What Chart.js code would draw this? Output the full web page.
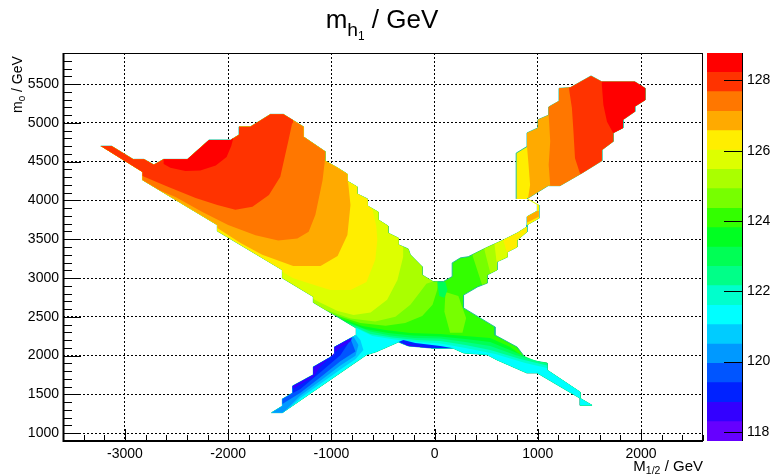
<!DOCTYPE html>
<html>
<head>
<meta charset="utf-8">
<script src="https://cdn.jsdelivr.net/npm/chart.js@4.4.1/dist/chart.umd.min.js"></script>
<style>
  html, body { margin: 0; padding: 0; background: #fff; }
  body { width: 774px; height: 475px; position: relative; overflow: hidden;
         font-family: "Liberation Sans", Arial, Helvetica, sans-serif; color: #000; }
  canvas { position: absolute; top: 0; }
  #main { left: 0; }
  #zbar { left: 700px; }
  .lbl { position: absolute; white-space: nowrap; line-height: 1; }
  .lbl sub { font-size: 70%; vertical-align: -0.3em; line-height: 0; }
  #title { left: 382px; top: 6px; font-size: 26px; transform: translateX(-50%); }
  #title > sub { font-size: 74%; vertical-align: -0.4em; }
  #title sub sub { font-size: 62%; vertical-align: -0.3em; }
  #ytitle { left: 10px; top: 113px; font-size: 14px; transform-origin: 0 0; transform: rotate(-90deg); }
  #xtitle { right: 71px; top: 458px; font-size: 15px; }
</style>
</head>
<body>
<canvas id="main" width="774" height="475"></canvas>
<canvas id="zbar" width="74" height="475"></canvas>
<div class="lbl" id="title">m<sub>h<sub>1</sub></sub> / GeV</div>
<div class="lbl" id="ytitle">m<sub>0</sub> / GeV</div>
<div class="lbl" id="xtitle">M<sub>1/2</sub> / GeV</div>
<script>
// axes
const X_RANGE = [-3600, 2600];
const Y_RANGE = [900, 5900];
const X_TICKS = [-3000, -2000, -1000, 0, 1000, 2000];
const Y_TICKS = [1000, 1500, 2000, 2500, 3000, 3500, 4000, 4500, 5000, 5500];

// colour scale (m_h1 in GeV), band edges bottom -> top
const Z_EDGES = [117.74, 118.29, 118.84, 119.40, 119.95, 120.50, 121.05, 121.60, 122.16, 122.71, 123.26,
                 123.81, 124.36, 124.92, 125.47, 126.02, 126.57, 127.12, 127.68, 128.23, 128.78];
const Z_COLORS = ["#6600ff", "#3300ff", "#0022ff", "#0055ff", "#0099ff", "#00ccff", "#00ffff", "#00ffcc",
                  "#00ff88", "#00ff55", "#00ff22", "#33ff00", "#77ff00", "#aaff00", "#ddff00", "#ffee00",
                  "#ffaa00", "#ff7700", "#ff3300", "#ff0000"];
const Z_TICKS = [118, 120, 122, 124, 126, 128];

// outline of the main X-shaped region (M1/2, m0), clockwise from the left tip
const MAIN = [
  [-3235, 4700], [-3130, 4700], [-2920, 4530], [-2815, 4530], [-2720, 4460], [-2625, 4530], [-2395, 4530],
  [-2185, 4780], [-1975, 4780], [-1895, 4845], [-1895, 4950], [-1785, 4950], [-1590, 5110], [-1465, 5110],
  [-1270, 4950], [-1270, 4820], [-1060, 4630], [-1060, 4510], [-940, 4420], [-845, 4340], [-845, 4250],
  [-750, 4175], [-750, 4085], [-650, 4020], [-650, 3930], [-545, 3850], [-545, 3750], [-450, 3670],
  [-450, 3580], [-350, 3515], [-350, 3430], [-255, 3375], [-235, 3300], [-120, 3145], [-120, 3040],
  [-15, 2955], [85, 2955], [170, 3020], [170, 3195], [250, 3260], [325, 3275], [500, 3390], [665, 3490],
  [800, 3580], [895, 3660], [895, 3790], [995, 3865], [995, 3940], [1010, 3940], [1010, 3770], [895, 3685],
  [895, 3595], [800, 3490], [800, 3400], [705, 3335], [705, 3270], [605, 3210], [605, 3105], [510, 3040],
  [510, 2935], [415, 2885], [280, 2780], [280, 2615], [585, 2370], [585, 2265], [800, 2110], [895, 1945],
  [1090, 1905], [1090, 1815], [1410, 1530], [1410, 1360], [1525, 1360], [995, 1775], [895, 1775],
  [605, 1945], [510, 2010], [280, 2035], [180, 2095], [-15, 2095], [-255, 2125], [-350, 2175],
  [-565, 2050], [-660, 2010], [-1475, 1265], [-1580, 1265], [-1475, 1350], [-1475, 1440], [-1375, 1520],
  [-1375, 1610], [-1175, 1755], [-1175, 1855], [-970, 2010], [-970, 2110], [-760, 2265], [-760, 2355],
  [-1175, 2685], [-1175, 2760], [-1475, 3000], [-1475, 3105], [-2105, 3605], [-2105, 3685], [-2830, 4265],
  [-2830, 4365]
];

// outline of the separate upper-right island
const BLOB = [
  [790, 4020], [790, 4610], [895, 4695], [895, 4870], [1000, 4935], [1000, 5040], [1105, 5100], [1105, 5205],
  [1205, 5280], [1205, 5445], [1315, 5455], [1515, 5605], [1620, 5530], [1940, 5530], [2040, 5445],
  [2040, 5295], [1940, 5210], [1940, 5145], [1825, 5040], [1825, 4935], [1730, 4870], [1730, 4760],
  [1620, 4650], [1620, 4510], [1430, 4355], [1215, 4190], [1100, 4190], [895, 4020]
];
const NECK = [[995, 3940], [895, 4020], [910, 4020], [1010, 3945]];

// contour lines inside the main region (higher values, upper-left wing)
const C_FF0000 = [[-2625, 4530], [-2395, 4530], [-2185, 4780], [-1975, 4780], [-1950, 4805], [-1970, 4700],
  [-2015, 4560], [-2120, 4450], [-2270, 4385], [-2415, 4380], [-2560, 4420], [-2625, 4470]];
const C_FF3300 = [[-2830, 4315], [-2590, 4180], [-2315, 4030], [-2105, 3940], [-1930, 3880], [-1765, 3920],
  [-1605, 4070], [-1495, 4305], [-1415, 4780], [-1380, 4995], [-1372, 5035]];
const C_FF7700 = [[-2655, 4125], [-2510, 4045], [-2250, 3850], [-2000, 3685], [-1735, 3550], [-1515, 3485],
  [-1330, 3510], [-1220, 3595], [-1155, 3815], [-1115, 4070], [-1085, 4265], [-1060, 4550]];
const C_FFAA00 = [[-2105, 3645], [-1880, 3450], [-1670, 3300], [-1370, 3155], [-1105, 3155], [-940, 3285],
  [-845, 3555], [-815, 3940], [-835, 4200], [-845, 4275]];
const C_FFEE00 = [[-1475, 3080], [-1375, 3000], [-1205, 2925], [-1010, 2845], [-815, 2845], [-660, 2950],
  [-575, 3235], [-555, 3490], [-565, 3670], [-603, 3893]];
const C_DDFF00 = [[-1175, 2730], [-1105, 2680], [-940, 2575], [-785, 2525], [-620, 2555], [-460, 2720],
  [-360, 2975], [-305, 3270], [-305, 3404]];
const C_AAFF00 = [[-1060, 2592], [-815, 2480], [-575, 2440], [-380, 2500], [-235, 2655], [-140, 2820], [-80, 2925]];
const C_77FF00 = [[-980, 2530], [-720, 2420], [-475, 2385], [-285, 2420], [-120, 2510], [-20, 2655], [25, 2845], [35, 2955]];
const STREAK_77 = [[105, 2820], [230, 2770], [305, 2485], [270, 2295], [150, 2295], [95, 2565]];
const SPOT_55 = [[25, 2950], [104, 2950], [125, 2845], [95, 2745], [45, 2770]];

// upper-right arm
const ARM_77 = [[365, 3301], [460, 2909]];
const ARM_AA = [[480, 3377], [540, 3061]];
const ARM_DD = [[580, 3438], [605, 3155]];
const ARM_EE = [[705, 3310]];
const ARM_ORANGE = [[895, 3715], [895, 3790], [995, 3865], [1010, 3865], [1010, 3790]];

// lower values (centre bottom, lower arms)
const C_00FF22 = [[-932, 2492], [-700, 2383], [-477, 2331], [-235, 2293], [55, 2280], [297, 2254], [539, 2228], [733, 2112]];
const C_00FF55 = [[-884, 2454], [-671, 2344], [-448, 2293], [-216, 2260], [55, 2247], [297, 2215], [539, 2177], [752, 2061], [994, 1925]];
const C_00FF88 = [[-845, 2423], [-622, 2312], [-429, 2260], [-196, 2228], [55, 2222], [297, 2177], [539, 2125], [781, 2009], [1090, 1900]];
const C_00FFCC = [[-806, 2392], [-622, 2280], [-409, 2235], [-177, 2202], [55, 2189], [297, 2138], [539, 2073], [829, 1957], [1090, 1874]];
const C_00FFFF = [[-767, 2360], [-603, 2254], [-390, 2209], [-158, 2177], [55, 2157], [297, 2099], [587, 2022], [878, 1906], [1090, 1842]];
const C_00CCFF = [[-1397, 1336], [-1300, 1454], [-1106, 1638], [-913, 1823], [-767, 1954], [-690, 2073], [-719, 2202]];
const C_0099FF = [[-1445, 1293], [-1300, 1486], [-1106, 1678], [-913, 1872], [-767, 1999], [-738, 2138], [-786, 2246]];
const C_0055FF = [[-1475, 1378], [-1300, 1521], [-1106, 1723], [-913, 1929], [-767, 2052], [-816, 2224]];
const C_0022FF = [[-1426, 1481], [-1300, 1570], [-1106, 1785], [-913, 2004], [-835, 2164], [-845, 2202]];
const C_3300FF = [[-1375, 1571], [-1300, 1629], [-1174, 1726], [-1106, 1861], [-952, 2061], [-913, 2098], [-816, 2183], [-797, 2238]];
const STRIP_0022FF = [[-350, 2175], [-255, 2125], [-15, 2095], [180, 2095], [55, 2125], [-187, 2164], [-303, 2202]];
const STRIP_3300FF = [[-320, 2170], [-255, 2125], [-15, 2095], [-60, 2110], [-200, 2135], [-290, 2160]];

// island contours
const I_FFAA00 = [[905, 4028], [925, 4200], [910, 4460], [895, 4695]];
const I_FF7700 = [[1120, 4190], [1105, 4460], [1120, 4760], [1105, 5100]];
const I_FF3300 = [[1410, 4340], [1360, 4545], [1345, 4890], [1330, 5190], [1300, 5454]];
const I_FF0000 = [[1670, 5015], [1635, 5230], [1620, 5490]];

// follow an outline from vertex a to vertex b (1-based), step +1 / -1
function walk(line, a, b, step) {
  const out = [];
  const n = line.length;
  let i = a - 1;
  for (;;) {
    out.push(line[i]);
    if (i === b - 1) break;
    i = (i + step + n) % n;
  }
  return out;
}

const EDGE = "rgba(20,190,150,0.9)";
const layers = [
  [MAIN, "#33ff00", EDGE],
  [BLOB, "#ffee00", EDGE],
  [NECK, "#ddff00"],
  [C_77FF00.concat(walk(MAIN, 36, 96, -1)), "#77ff00"],
  [C_AAFF00.concat(walk(MAIN, 36, 96, -1)), "#aaff00"],
  [C_DDFF00.concat(walk(MAIN, 31, 97, -1)), "#ddff00"],
  [C_FFEE00.concat(walk(MAIN, 25, 99, -1)), "#ffee00"],
  [C_FFAA00.concat(walk(MAIN, 20, 101, -1)), "#ffaa00"],
  [C_FF7700.concat(walk(MAIN, 17, 102, -1)), "#ff7700"],
  [C_FF3300.concat(walk(MAIN, 14, 103, -1)), "#ff3300"],
  [C_FF0000, "#ff0000"],
  [STREAK_77, "#77ff00"],
  [SPOT_55, "#00ff55"],
  [[ARM_77[0]].concat(walk(MAIN, 42, 60, 1), [ARM_77[1]]), "#77ff00"],
  [[ARM_AA[0]].concat(walk(MAIN, 42, 58, 1), [ARM_AA[1]]), "#aaff00"],
  [[ARM_DD[0]].concat(walk(MAIN, 43, 57, 1), [ARM_DD[1]]), "#ddff00"],
  [walk(MAIN, 43, 55, 1).concat(ARM_EE), "#ffee00"],
  [ARM_ORANGE, "#ffaa00"],
  [C_00FF22.concat(walk(MAIN, 67, 95, 1)), "#00ff22"],
  [C_00FF55.concat(walk(MAIN, 68, 95, 1)), "#00ff55"],
  [C_00FF88.concat(walk(MAIN, 69, 95, 1)), "#00ff88"],
  [C_00FFCC.concat(walk(MAIN, 69, 95, 1)), "#00ffcc"],
  [C_00FFFF.concat(walk(MAIN, 69, 95, 1)), "#00ffff"],
  [C_00CCFF.concat(walk(MAIN, 94, 84, -1)), "#00ccff"],
  [C_0099FF.concat(walk(MAIN, 93, 84, -1)), "#0099ff"],
  [C_0055FF.concat(walk(MAIN, 93, 87, -1)), "#0055ff"],
  [C_0022FF.concat(walk(MAIN, 93, 88, -1)), "#0022ff"],
  [C_3300FF.concat(walk(MAIN, 93, 89, -1)), "#3300ff"],
  [STRIP_0022FF, "#0022ff"],
  [STRIP_3300FF, "#3300ff"],
  [I_FFAA00.concat(walk(BLOB, 4, 27, 1)), "#ffaa00"],
  [I_FF7700.concat(walk(BLOB, 8, 26, 1)), "#ff7700"],
  [I_FF3300.concat(walk(BLOB, 11, 25, 1)), "#ff3300"],
  [I_FF0000.concat(walk(BLOB, 13, 21, 1)), "#ff0000"]
];

const FONT = { family: "'Liberation Sans', Arial, sans-serif", size: 14 };

const datasets = layers.map(([pts, color, edge], i) => ({
  data: pts.map(([x, y]) => ({ x, y })),
  showLine: true,
  fill: "shape",
  backgroundColor: color,
  borderColor: edge || color,
  borderWidth: edge ? 1 : 0,
  pointRadius: 0,
  pointHoverRadius: 0,
  order: layers.length - i
}));

const Y_MINOR = [];
for (let v = Y_RANGE[0]; v <= Y_RANGE[1]; v += 100) Y_MINOR.push(v);
const X_MINOR = [];
for (let v = X_RANGE[0]; v <= X_RANGE[1]; v += 200) X_MINOR.push(v);

const rootFrame = {
  id: "rootFrame",
  afterDraw(chart) {
    const { ctx, chartArea: a, scales: { x, y } } = chart;
    ctx.save();
    ctx.strokeStyle = "#000";
    ctx.lineWidth = 1;
    ctx.beginPath();
    Y_MINOR.forEach((v) => {
      const py = Math.round(y.getPixelForValue(v)) + 0.5;
      const len = Y_TICKS.includes(v) ? 18 : 9;
      ctx.moveTo(a.left, py);
      ctx.lineTo(a.left + len, py);
    });
    X_MINOR.forEach((v) => {
      const px = Math.round(x.getPixelForValue(v)) + 0.5;
      const len = X_TICKS.includes(v) ? 12 : 6;
      ctx.moveTo(px, a.bottom);
      ctx.lineTo(px, a.bottom - len);
    });
    ctx.stroke();
    ctx.strokeRect(a.left + 0.5, a.top + 0.5, a.right - a.left - 1, a.bottom - a.top - 1);
    ctx.lineWidth = 2;
    ctx.beginPath();
    ctx.moveTo(a.left + 0.5, a.top);
    ctx.lineTo(a.left + 0.5, a.bottom);
    ctx.lineTo(a.right, a.bottom);
    ctx.stroke();
    ctx.restore();
  }
};

new Chart(document.getElementById("main"), {
  type: "scatter",
  data: { datasets },
  options: {
    responsive: false,
    animation: false,
    events: [],
    layout: { padding: { left: 0, top: 53, right: 71, bottom: 0 } },
    plugins: { legend: { display: false }, tooltip: { enabled: false } },
    scales: {
      x: {
        type: "linear", min: X_RANGE[0], max: X_RANGE[1], z: 1,
        afterBuildTicks: (s) => { s.ticks = X_TICKS.map((v) => ({ value: v })); },
        afterFit: (s) => { s.height = 34; },
        grid: { color: "#000", lineWidth: 1, drawTicks: false },
        border: { display: false, dash: [2, 2] },
        ticks: { color: "#000", font: FONT, padding: 5, maxRotation: 0, callback: (v) => String(v) }
      },
      y: {
        type: "linear", min: Y_RANGE[0], max: Y_RANGE[1], z: 1,
        afterBuildTicks: (s) => { s.ticks = Y_TICKS.map((v) => ({ value: v })); },
        afterFit: (s) => { s.width = 63; },
        grid: { color: "#000", lineWidth: 1, drawTicks: false },
        border: { display: false, dash: [2, 2] },
        ticks: { color: "#000", font: FONT, padding: 4, callback: (v) => String(v) }
      }
    }
  },
  plugins: [rootFrame]
});

// colour bar
const zbarTicks = {
  id: "zbarTicks",
  afterDraw(chart) {
    const { ctx, chartArea: a, scales: { y } } = chart;
    ctx.save();
    ctx.strokeStyle = "#000";
    ctx.lineWidth = 1;
    ctx.beginPath();
    Z_TICKS.forEach((v) => {
      const py = Math.round(y.getPixelForValue(v)) + 0.5;
      ctx.moveTo(a.right - 19, py);
      ctx.lineTo(a.right, py);
    });
    ctx.moveTo(a.right - 0.5, a.top);
    ctx.lineTo(a.right - 0.5, a.bottom);
    ctx.stroke();
    ctx.restore();
  }
};

new Chart(document.getElementById("zbar"), {
  type: "bar",
  data: {
    labels: [""],
    datasets: Z_COLORS.map((c, i) => ({
      data: [[Z_EDGES[i], Z_EDGES[i + 1]]],
      backgroundColor: c,
      borderWidth: 0,
      grouped: false,
      barPercentage: 1,
      categoryPercentage: 1
    }))
  },
  options: {
    responsive: false,
    animation: false,
    events: [],
    layout: { padding: { left: 7, top: 53, right: 0, bottom: 34 } },
    plugins: { legend: { display: false }, tooltip: { enabled: false } },
    scales: {
      x: { display: false },
      y: {
        position: "right", min: Z_EDGES[0], max: Z_EDGES[Z_EDGES.length - 1],
        afterBuildTicks: (s) => { s.ticks = Z_TICKS.map((v) => ({ value: v })); },
        afterFit: (s) => { s.width = 31; },
        grid: { display: false, drawTicks: false },
        border: { display: false },
        ticks: { color: "#000", font: FONT, padding: 4, callback: (v) => String(v) }
      }
    }
  },
  plugins: [zbarTicks]
});
</script>
</body>
</html>
